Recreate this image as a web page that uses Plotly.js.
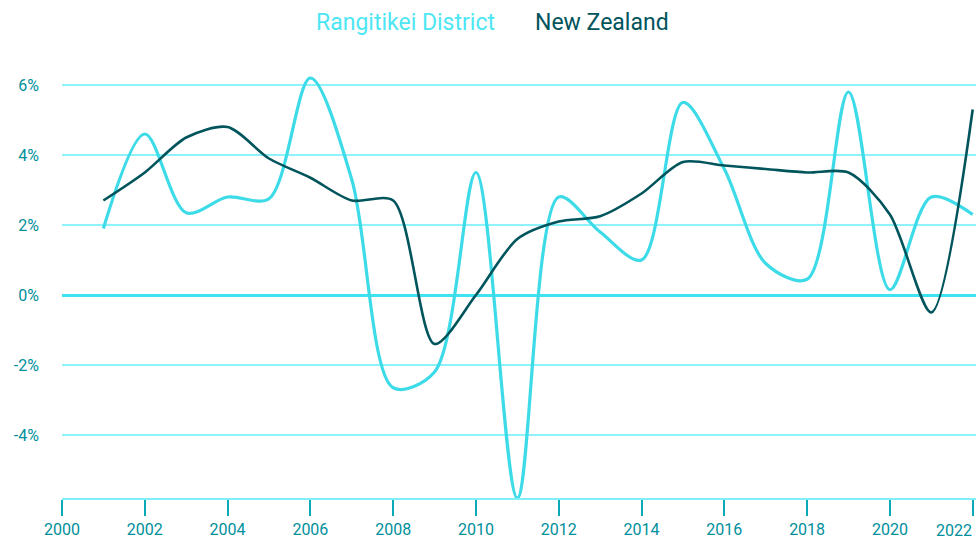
<!DOCTYPE html>
<html>
<head>
<meta charset="utf-8">
<script src="https://cdn.plot.ly/plotly-3.0.1.min.js"></script>
<style>html,body{margin:0;padding:0;background:#fff;}#chart{width:979px;height:546px;}</style>
</head>
<body>
<div id="chart"></div>
<script>
const years = [2001,2002,2003,2004,2005,2006,2007,2008,2009,2010,2011,2012,2013,2014,2015,2016,2017,2018,2019,2020,2021,2022];
const rangitikei = [1.9,4.6,2.35,2.8,2.75,6.2,3.3,-2.65,-2.2,3.5,-5.8,2.8,1.8,1.0,5.5,3.6,0.9,0.45,5.8,0.15,2.8,2.3];
const newZealand = [2.7,3.5,4.5,4.8,3.9,3.35,2.7,2.7,-1.4,0.0,1.6,2.1,2.25,2.9,3.8,3.7,3.6,3.5,3.5,2.3,-0.5,5.3];
const seriesNames = ["Rangitikei District","New Zealand"];
const xTicks = [2000,2002,2004,2006,2008,2010,2012,2014,2016,2018,2020,2022];
const xTickText = xTicks.map(v => v === 2022 ? "" : String(v));
const lastTick = "2022";
const yTicks = [-4,-2,0,2,4,6];
const yTickText = yTicks.map(v => v + "%");

const cLight = "#3ddbe8";
const cDark = "#00545c";
const labelCol = "#008f9c";

const traces = [
  {x: years, y: rangitikei, name: seriesNames[0], mode: "lines",
   line: {color: cLight, width: 3.2, shape: "spline", smoothing: 0.9}, showlegend: false},
  {x: years, y: newZealand, name: seriesNames[1], mode: "lines",
   line: {color: cDark, width: 2.6, shape: "spline", smoothing: 0.8}, showlegend: false}
];

const layout = {
  width: 979, height: 546,
  margin: {l: 62, r: 3, t: 64, b: 48},
  paper_bgcolor: "#fff", plot_bgcolor: "#fff",
  font: {family: "Roboto, sans-serif", color: labelCol, size: 16},
  xaxis: {range: [2000, 2022.08], tickvals: xTicks, ticktext: xTickText, showgrid: false, zeroline: false,
    showline: true, linecolor: "#7ff0fa", linewidth: 2,
    ticks: "outside", ticklen: 16, tickwidth: 2, tickcolor: "#0aa9b8",
    tickfont: {size: 16, color: labelCol}, fixedrange: true},
  yaxis: {range: [-5.8, 6.6], tickvals: yTicks, ticktext: yTickText,
    showgrid: true, gridcolor: "#8ff2fb", gridwidth: 2,
    zeroline: true, zerolinecolor: "#3de3f0", zerolinewidth: 3,
    showline: false, ticks: "", ticklabelstandoff: 22,
    tickfont: {size: 16, color: labelCol}, fixedrange: true},
  annotations: [
    {xref: "paper", yref: "paper", x: 0.376, y: 1, yanchor: "middle", yshift: 42, xanchor: "center",
     text: seriesNames[0], showarrow: false, font: {size: 23, color: "#4de6f3"}},
    {xref: "paper", yref: "paper", x: 0.591, y: 1, yanchor: "middle", yshift: 42, xanchor: "center",
     text: seriesNames[1], showarrow: false, font: {size: 23, color: cDark}},
    {xref: "x", yref: "paper", x: 2022.0, y: 0, yanchor: "middle", yshift: -32, xanchor: "right", xshift: 1,
     text: lastTick, showarrow: false, font: {size: 16, color: labelCol}}
  ]
};

Plotly.newPlot("chart", traces, layout, {displayModeBar: false, staticPlot: true});
</script>
</body>
</html>
